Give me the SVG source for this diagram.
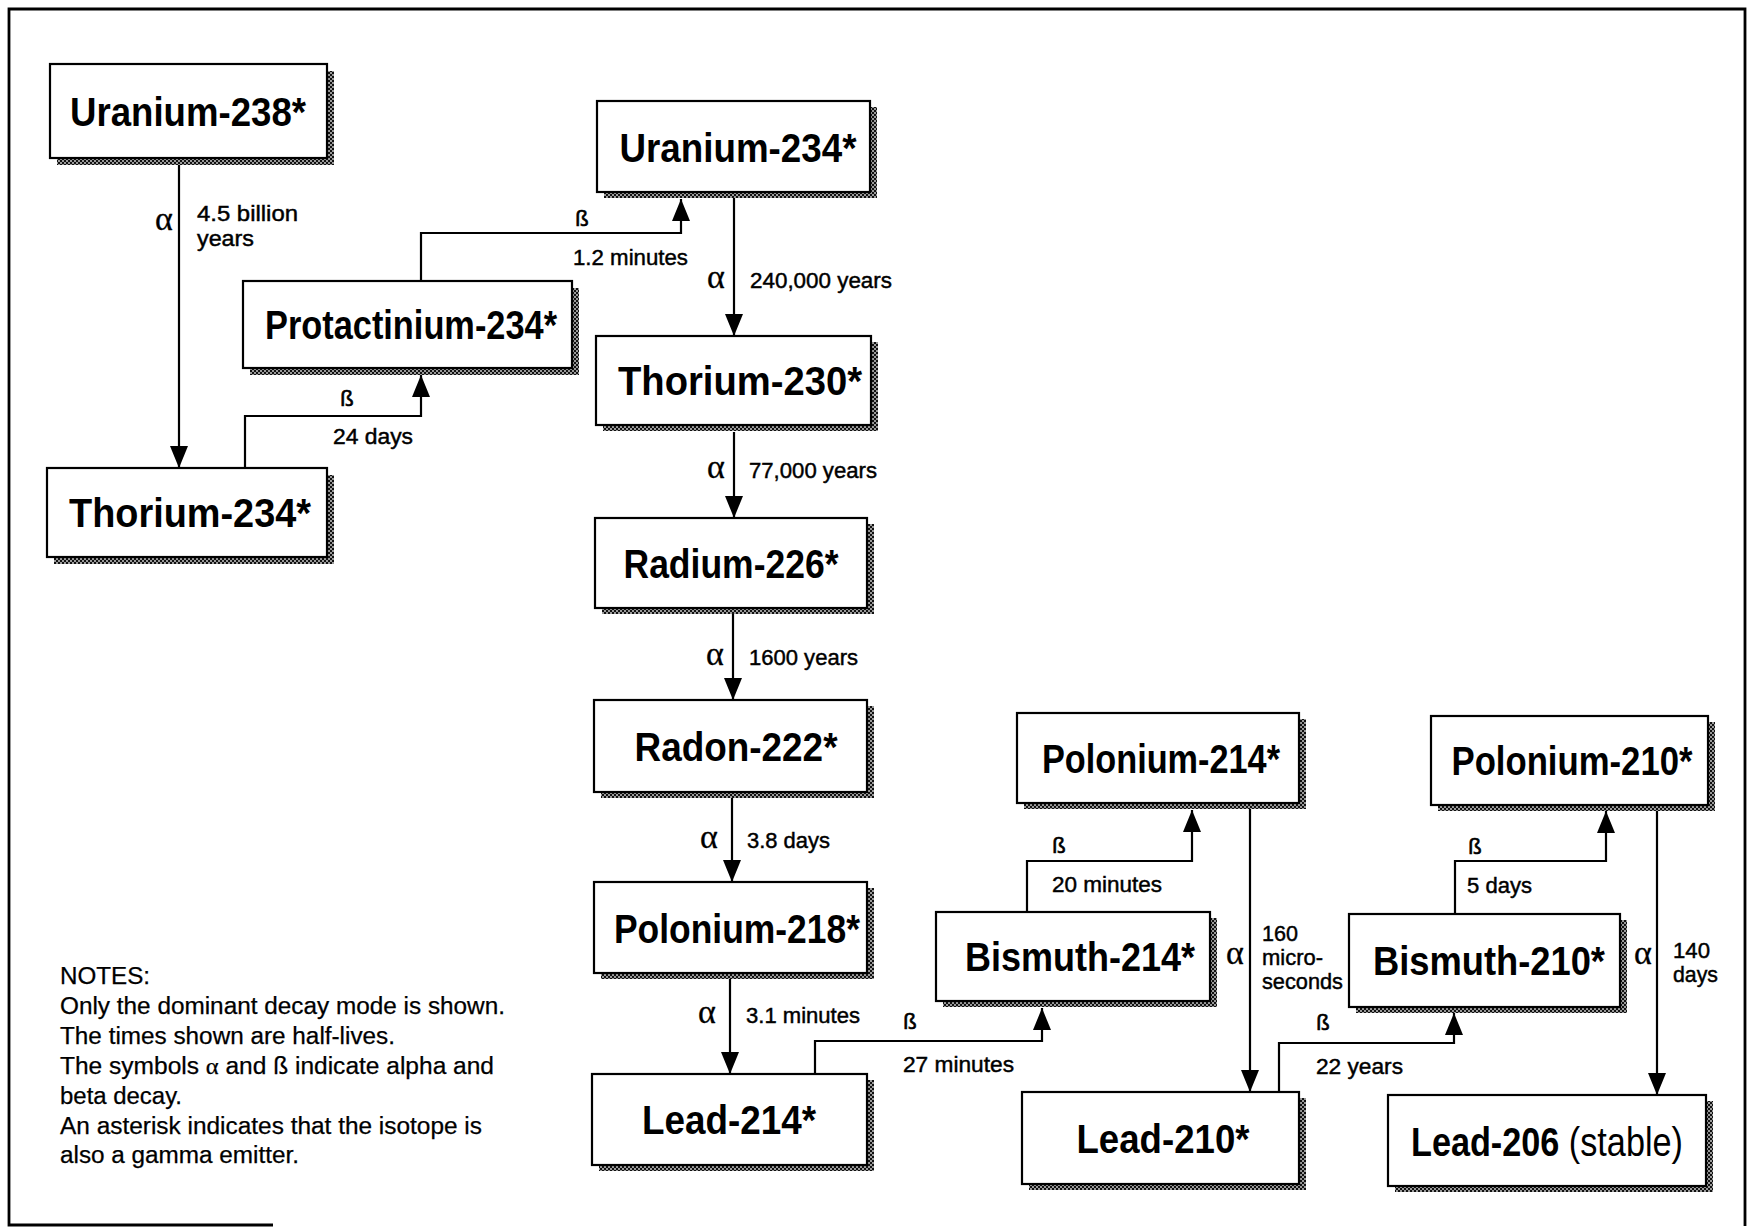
<svg xmlns="http://www.w3.org/2000/svg" width="1748" height="1228" viewBox="0 0 1748 1228">
<defs>
<pattern id="dots" width="4" height="4" patternUnits="userSpaceOnUse">
<rect width="4" height="4" fill="#9a9a9a"/>
<rect width="2" height="2" fill="#111"/>
<rect x="2" y="2" width="2" height="2" fill="#111"/>
</pattern>
<marker id="ah" viewBox="0 0 22 18" refX="22" refY="9" markerWidth="22" markerHeight="18" markerUnits="userSpaceOnUse" orient="auto">
<path d="M0,0 L22,9 L0,18 Z" fill="#000"/>
</marker>
</defs>
<style>
.box { fill:#fff; stroke:#000; stroke-width:2.2; }
.sh { fill:url(#dots); }
.nt { font-family:"Liberation Sans", Arial, sans-serif; font-weight:bold; font-size:41px; text-anchor:middle; fill:#000; }
.lb { font-family:"Liberation Sans", Arial, sans-serif; font-size:22px; fill:#000; stroke:#000; stroke-width:0.45; }
.gr { font-family:"Liberation Serif", "Times New Roman", serif; font-size:34px; text-anchor:middle; fill:#000; stroke:#000; stroke-width:0.3; }
.bt { font-family:"Liberation Sans", Arial, sans-serif; font-size:22px; text-anchor:middle; fill:#000; stroke:#000; stroke-width:0.6; }
.cn { fill:none; stroke:#000; stroke-width:2.2; marker-end:url(#ah); }
.nts { font-family:"Liberation Sans", Arial, sans-serif; font-size:23px; fill:#000; stroke:#000; stroke-width:0.25; }
</style>
<rect x="0" y="0" width="1748" height="1228" fill="#fff"/>
<path d="M273,1225 H9 V9 H1745 V1226" fill="none" stroke="#000" stroke-width="2.8"/>

<g id="connectors">
<path class="cn" d="M179,165 V468"/>
<path class="cn" d="M245,468 V416 H421 V375"/>
<path class="cn" d="M421,281 V233 H681 V199"/>
<path class="cn" d="M734,198 V336"/>
<path class="cn" d="M734,432 V518"/>
<path class="cn" d="M733,614 V700"/>
<path class="cn" d="M732,798 V882"/>
<path class="cn" d="M730,979 V1074"/>
<path class="cn" d="M815,1074 V1041 H1042 V1008"/>
<path class="cn" d="M1027,912 V861 H1192 V810"/>
<path class="cn" d="M1250,809 V1092"/>
<path class="cn" d="M1279,1092 V1043 H1454 V1013"/>
<path class="cn" d="M1455,914 V861 H1606 V811"/>
<path class="cn" d="M1657,811 V1095"/>
<g id="connector-labels">
<text class="gr" x="164" y="230">α</text>
<text class="lb" x="197" y="221" textLength="101" lengthAdjust="spacingAndGlyphs">4.5 billion</text>
<text class="lb" x="197" y="246" textLength="57" lengthAdjust="spacingAndGlyphs">years</text>
<text class="bt" x="347" y="406">ß</text>
<text class="lb" x="333" y="444" textLength="80" lengthAdjust="spacingAndGlyphs">24 days</text>
<text class="bt" x="582" y="226">ß</text>
<text class="lb" x="573" y="265" textLength="115" lengthAdjust="spacingAndGlyphs">1.2 minutes</text>
<text class="gr" x="716" y="288">α</text>
<text class="lb" x="750" y="288" textLength="142" lengthAdjust="spacingAndGlyphs">240,000 years</text>
<text class="gr" x="716" y="478">α</text>
<text class="lb" x="749" y="478" textLength="128" lengthAdjust="spacingAndGlyphs">77,000 years</text>
<text class="gr" x="715" y="665">α</text>
<text class="lb" x="749" y="665" textLength="109" lengthAdjust="spacingAndGlyphs">1600 years</text>
<text class="gr" x="709" y="848">α</text>
<text class="lb" x="747" y="848" textLength="83" lengthAdjust="spacingAndGlyphs">3.8 days</text>
<text class="gr" x="707" y="1023">α</text>
<text class="lb" x="746" y="1023" textLength="114" lengthAdjust="spacingAndGlyphs">3.1 minutes</text>
<text class="bt" x="910" y="1029">ß</text>
<text class="lb" x="903" y="1072" textLength="111" lengthAdjust="spacingAndGlyphs">27 minutes</text>
<text class="bt" x="1059" y="853">ß</text>
<text class="lb" x="1052" y="892" textLength="110" lengthAdjust="spacingAndGlyphs">20 minutes</text>
<text class="gr" x="1235" y="964">α</text>
<text class="lb" x="1262" y="941" textLength="36" lengthAdjust="spacingAndGlyphs">160</text>
<text class="lb" x="1262" y="965" textLength="61" lengthAdjust="spacingAndGlyphs">micro-</text>
<text class="lb" x="1262" y="989" textLength="81" lengthAdjust="spacingAndGlyphs">seconds</text>
<text class="bt" x="1323" y="1030">ß</text>
<text class="lb" x="1316" y="1074" textLength="87" lengthAdjust="spacingAndGlyphs">22 years</text>
<text class="bt" x="1475" y="854">ß</text>
<text class="lb" x="1467" y="893" textLength="65" lengthAdjust="spacingAndGlyphs">5 days</text>
<text class="gr" x="1643" y="964">α</text>
<text class="lb" x="1673" y="958" textLength="37" lengthAdjust="spacingAndGlyphs">140</text>
<text class="lb" x="1673" y="982" textLength="45" lengthAdjust="spacingAndGlyphs">days</text>
</g>
</g>

<g id="uranium-238">
<rect class="sh" x="57" y="71" width="277" height="94"/>
<rect class="box" x="50" y="64" width="277" height="94"/>
<text class="nt" x="188" y="126" textLength="236" lengthAdjust="spacingAndGlyphs">Uranium-238*</text>
</g>
<g id="thorium-234">
<rect class="sh" x="54" y="475" width="280" height="89"/>
<rect class="box" x="47" y="468" width="280" height="89"/>
<text class="nt" x="190" y="527" textLength="242" lengthAdjust="spacingAndGlyphs">Thorium-234*</text>
</g>
<g id="protactinium-234">
<rect class="sh" x="250" y="288" width="329" height="87"/>
<rect class="box" x="243" y="281" width="329" height="87"/>
<text class="nt" x="411" y="339" textLength="292" lengthAdjust="spacingAndGlyphs">Protactinium-234*</text>
</g>
<g id="uranium-234">
<rect class="sh" x="604" y="107" width="273" height="91"/>
<rect class="box" x="597" y="101" width="273" height="91"/>
<text class="nt" x="738" y="162" textLength="237" lengthAdjust="spacingAndGlyphs">Uranium-234*</text>
</g>
<g id="thorium-230">
<rect class="sh" x="603" y="342" width="275" height="89"/>
<rect class="box" x="596" y="336" width="275" height="89"/>
<text class="nt" x="740" y="395" textLength="244" lengthAdjust="spacingAndGlyphs">Thorium-230*</text>
</g>
<g id="radium-226">
<rect class="sh" x="602" y="524" width="272" height="90"/>
<rect class="box" x="595" y="518" width="272" height="90"/>
<text class="nt" x="731" y="578" textLength="215" lengthAdjust="spacingAndGlyphs">Radium-226*</text>
</g>
<g id="radon-222">
<rect class="sh" x="601" y="706" width="273" height="92"/>
<rect class="box" x="594" y="700" width="273" height="92"/>
<text class="nt" x="736" y="761" textLength="203" lengthAdjust="spacingAndGlyphs">Radon-222*</text>
</g>
<g id="polonium-218">
<rect class="sh" x="601" y="888" width="273" height="91"/>
<rect class="box" x="594" y="882" width="273" height="91"/>
<text class="nt" x="737" y="943" textLength="246" lengthAdjust="spacingAndGlyphs">Polonium-218*</text>
</g>
<g id="lead-214">
<rect class="sh" x="599" y="1080" width="275" height="91"/>
<rect class="box" x="592" y="1074" width="275" height="91"/>
<text class="nt" x="729" y="1134" textLength="174" lengthAdjust="spacingAndGlyphs">Lead-214*</text>
</g>
<g id="polonium-214">
<rect class="sh" x="1024" y="719" width="282" height="90"/>
<rect class="box" x="1017" y="713" width="282" height="90"/>
<text class="nt" x="1161" y="773" textLength="238" lengthAdjust="spacingAndGlyphs">Polonium-214*</text>
</g>
<g id="bismuth-214">
<rect class="sh" x="943" y="918" width="274" height="89"/>
<rect class="box" x="936" y="912" width="274" height="89"/>
<text class="nt" x="1080" y="971" textLength="230" lengthAdjust="spacingAndGlyphs">Bismuth-214*</text>
</g>
<g id="lead-210">
<rect class="sh" x="1029" y="1098" width="277" height="92"/>
<rect class="box" x="1022" y="1092" width="277" height="92"/>
<text class="nt" x="1163" y="1153" textLength="173" lengthAdjust="spacingAndGlyphs">Lead-210*</text>
</g>
<g id="polonium-210">
<rect class="sh" x="1438" y="722" width="277" height="89"/>
<rect class="box" x="1431" y="716" width="277" height="89"/>
<text class="nt" x="1572" y="775" textLength="241" lengthAdjust="spacingAndGlyphs">Polonium-210*</text>
</g>
<g id="bismuth-210">
<rect class="sh" x="1356" y="920" width="271" height="93"/>
<rect class="box" x="1349" y="914" width="271" height="93"/>
<text class="nt" x="1489" y="975" textLength="232" lengthAdjust="spacingAndGlyphs">Bismuth-210*</text>
</g>
<g id="lead-206">
<rect class="sh" x="1395" y="1101" width="318" height="91"/>
<rect class="box" x="1388" y="1095" width="318" height="91"/>
<text class="nt" transform="translate(1411,1156) scale(0.835,1)" x="0" y="0" style="text-anchor:start">Lead-206<tspan style="font-weight:normal"> (stable)</tspan></text>
</g>

<g id="notes">
<text class="nts" x="60" y="984" textLength="90" lengthAdjust="spacingAndGlyphs">NOTES:</text>
<text class="nts" x="60" y="1014" textLength="445" lengthAdjust="spacingAndGlyphs">Only the dominant decay mode is shown.</text>
<text class="nts" x="60" y="1044" textLength="335" lengthAdjust="spacingAndGlyphs">The times shown are half-lives.</text>
<text class="nts" x="60" y="1074" textLength="434" lengthAdjust="spacingAndGlyphs">The symbols <tspan style="font-family:'Liberation Serif', serif">α</tspan> and ß indicate alpha and</text>
<text class="nts" x="60" y="1104" textLength="122" lengthAdjust="spacingAndGlyphs">beta decay.</text>
<text class="nts" x="60" y="1134" textLength="422" lengthAdjust="spacingAndGlyphs">An asterisk indicates that the isotope is</text>
<text class="nts" x="60" y="1163" textLength="239" lengthAdjust="spacingAndGlyphs">also a gamma emitter.</text>
</g>
</svg>
